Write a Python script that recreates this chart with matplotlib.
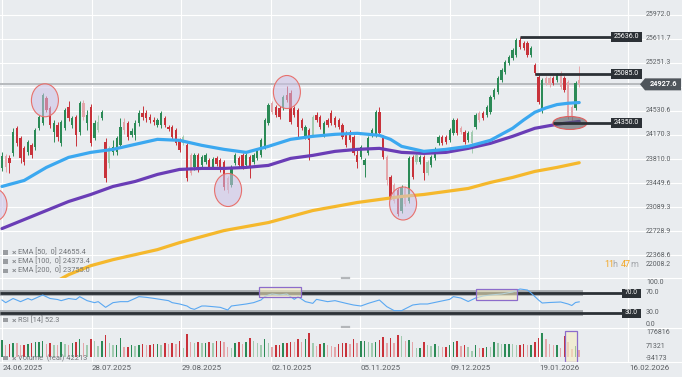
import numpy as np
import matplotlib
matplotlib.use("Agg")
import matplotlib.pyplot as plt
from matplotlib.patches import Ellipse, Rectangle, Polygon

plt.rcParams['font.family'] = ['Roboto', 'DejaVu Sans']

# ---------------- data ----------------
dates = ["24.06.2025", "28.07.2025", "29.08.2025", "02.10.2025",
         "05.11.2025", "09.12.2025", "19.01.2026", "16.02.2026"]
date_pos = [0, 24.2, 48.4, 72.6, 96.8, 121.0, 145.1, 169.3]

opens = [23670, 23850, 23820, 23895, 24270, 24120, 23970, 23910, 24015, 23985,
         24270, 24345, 24720, 24570, 24210, 24315, 24045, 24270, 24585, 24315,
         24435, 24210, 24645, 24345, 24585, 24120, 24240, 24420, 24060, 23745,
         23910, 23910, 24015, 24360, 24345, 24165, 24165, 24345, 24495, 24495,
         24435, 24390, 24315, 24315, 24420, 24285, 24285, 24240, 24090, 24045,
         24015, 23865, 23685, 23865, 23715, 23760, 23790, 23685, 23820, 23790,
         23760, 23520, 23415, 23745, 23820, 23865, 23715, 23835, 23760, 23820,
         23865, 23985, 24345, 24645, 24585, 24570, 24570, 24765, 24795, 24570,
         24540, 24390, 24135, 24240, 24165, 24465, 24435, 24165, 24390, 24495,
         24420, 24390, 24315, 24195, 24210, 24135, 23865, 23835, 23715, 23895,
         24165, 24165, 24510, 24135, 23835, 23535, 23415, 23340, 23040, 23370,
         23190, 23835, 23760, 23760, 23835, 23595, 23715, 23820, 24045, 24135,
         24135, 24090, 24195, 24390, 24270, 24210, 24090, 24045, 24285, 24495,
         24495, 24465, 24510, 24735, 24810, 24990, 25110, 25245, 25320, 25365,
         25590, 25545, 25545, 25365, 25215, 25035, 24540, 25020, 25020, 25020,
         24990, 25095, 25020, 24960, 24585, 24570, 24990]
closes = [23850, 23685, 23745, 24210, 24045, 23820, 23760, 24060, 23865, 24240,
          24435, 24765, 24540, 24315, 24345, 24135, 24360, 24540, 24420, 24420,
          24165, 24645, 24435, 24465, 24045, 24345, 24360, 24510, 23520, 23970,
          23985, 24120, 24285, 24240, 24135, 24225, 24345, 24495, 24435, 24420,
          24390, 24360, 24390, 24495, 24315, 24255, 24135, 24045, 23940, 24135,
          23520, 23595, 23865, 23640, 23835, 23865, 23685, 23805, 23730, 23640,
          23385, 23340, 23685, 23865, 23715, 23685, 23865, 23685, 23865, 23940,
          24090, 24390, 24615, 24510, 24465, 24435, 24735, 24690, 24360, 24465,
          24285, 24270, 24285, 24090, 24435, 24390, 24285, 24345, 24315, 24345,
          24315, 24285, 24135, 24015, 24090, 23895, 23760, 23985, 23790, 24120,
          24240, 24510, 24195, 23835, 23490, 23235, 23190, 22995, 23385, 23145,
          23820, 23535, 23865, 23835, 23595, 23760, 23835, 23940, 24135, 24045,
          24060, 24240, 24390, 24195, 24210, 24060, 24195, 24210, 24465, 24390,
          24420, 24585, 24735, 24840, 25020, 25140, 25260, 25335, 25440, 25590,
          25485, 25470, 25365, 25470, 25095, 24660, 24990, 24945, 24915, 24945,
          25065, 24885, 24840, 24435, 24435, 24945, 24927.6]
highs = [23910, 23880, 23865, 24270, 24300, 24150, 24000, 24090, 24045, 24270,
         24465, 24795, 24750, 24600, 24390, 24360, 24390, 24570, 24675, 24450,
         24465, 24675, 24690, 24540, 24630, 24390, 24465, 24540, 24120, 24000,
         24090, 24150, 24420, 24420, 24375, 24270, 24390, 24540, 24600, 24540,
         24480, 24435, 24420, 24525, 24450, 24315, 24315, 24270, 24120, 24165,
         24045, 23895, 23895, 23895, 23865, 23895, 23820, 23835, 23850, 23820,
         23790, 23550, 23715, 23895, 23850, 23895, 23895, 23865, 23895, 23970,
         24120, 24420, 24645, 24675, 24615, 24600, 24765, 24900, 24840, 24600,
         24570, 24420, 24315, 24270, 24465, 24510, 24465, 24375, 24420, 24540,
         24450, 24420, 24345, 24225, 24240, 24165, 23940, 24015, 23820, 24150,
         24270, 24540, 24585, 24165, 23865, 23565, 23445, 23370, 23415, 23400,
         23850, 23865, 23895, 23865, 23865, 23790, 23865, 23985, 24165, 24165,
         24165, 24270, 24420, 24420, 24300, 24240, 24225, 24240, 24495, 24525,
         24525, 24615, 24765, 24870, 25050, 25170, 25290, 25365, 25470, 25620,
         25636, 25575, 25575, 25500, 25245, 25065, 25020, 25050, 25050, 25050,
         25095, 25125, 25050, 24990, 24615, 24975, 25200]
lows = [23625, 23610, 23595, 23850, 24000, 23745, 23715, 23865, 23820, 23940,
        24240, 24315, 24510, 24270, 24060, 24075, 24000, 24240, 24375, 24270,
        24000, 24165, 24390, 24240, 24000, 24090, 24210, 24390, 23460, 23670,
        23865, 23865, 23970, 24180, 24090, 24135, 24090, 24300, 24390, 24360,
        24345, 24315, 24285, 24270, 24285, 24225, 24105, 24015, 23910, 24015,
        23475, 23565, 23640, 23610, 23685, 23730, 23655, 23655, 23700, 23610,
        23340, 23295, 23385, 23715, 23685, 23655, 23685, 23520, 23730, 23790,
        23835, 23955, 24315, 24480, 24435, 24405, 24540, 24660, 24330, 24435,
        24135, 24240, 24105, 23790, 24135, 24360, 24255, 24135, 24285, 24315,
        24285, 24255, 24105, 23985, 24060, 23865, 23670, 23805, 23535, 23865,
        24135, 24135, 24165, 23805, 23415, 23205, 23160, 22965, 23010, 23115,
        23160, 23505, 23730, 23730, 23490, 23565, 23685, 23790, 24015, 24015,
        24030, 24060, 24165, 24165, 24180, 24030, 24060, 23895, 24255, 24360,
        24390, 24435, 24480, 24705, 24780, 24960, 25080, 25215, 25290, 25335,
        25455, 25440, 25335, 25335, 25065, 24630, 24495, 24915, 24885, 24915,
        24960, 24855, 24810, 24405, 24350, 24540, 24885]
volumes_k = [114, 80, 87, 96, 91, 80, 80, 84, 96, 98,
             100, 107, 87, 96, 80, 77, 103, 87, 80, 91,
             98, 119, 91, 80, 119, 110, 75, 107, 149, 91,
             80, 80, 126, 68, 68, 80, 73, 80, 84, 80,
             80, 84, 87, 80, 91, 87, 96, 84, 107, 57,
             156, 103, 96, 103, 91, 96, 103, 96, 107, 107,
             98, 68, 57, 91, 100, 84, 103, 126, 107, 91,
             80, 119, 96, 68, 80, 80, 91, 91, 103, 98,
             119, 103, 119, 165, 91, 73, 87, 91, 80, 73,
             68, 87, 96, 96, 87, 119, 96, 105, 110, 103,
             96, 103, 114, 133, 96, 126, 91, 149, 142, 110,
             114, 100, 57, 57, 103, 80, 73, 87, 73, 68,
             68, 80, 103, 107, 73, 80, 68, 40, 80, 57,
             57, 68, 64, 98, 96, 84, 87, 87, 84, 80,
             80, 87, 80, 80, 103, 130, 165, 119, 87, 80,
             80, 60, 142, 103, 55, 70, 42.213]

ema50_idx = [0, 6, 12, 18, 24, 30, 36, 42, 48, 54, 60, 66, 72, 78, 84, 90, 96,
             102, 105, 108, 114, 120, 126, 132, 138, 141, 144, 147, 150, 153, 156]
ema50 = [23400, 23490, 23685, 23835, 23910, 23955, 24030, 24105, 24090, 24015,
         23955, 23910, 24000, 24105, 24150, 24180, 24195, 24165, 24105, 24000,
         23925, 23955, 24000, 24090, 24270, 24395, 24510, 24575, 24625, 24645, 24655.4]
ema100_idx = [0, 6, 12, 18, 24, 30, 36, 42, 48, 54, 60, 66, 72, 78, 84, 90, 96,
              102, 108, 114, 120, 126, 132, 138, 144, 150, 156]
ema100 = [22770, 22905, 23040, 23175, 23280, 23400, 23475, 23580, 23655, 23670,
          23670, 23685, 23715, 23820, 23865, 23925, 23955, 23970, 23910, 23895,
          23910, 23970, 24045, 24150, 24270, 24330, 24373.4]
ema200_idx = [12, 18, 24, 30, 36, 42, 48, 54, 60, 66, 72, 78, 84, 90, 96, 102,
              108, 114, 120, 126, 132, 138, 144, 150, 156]
ema200 = [21900, 22080, 22215, 22305, 22380, 22455, 22560, 22650, 22740, 22800,
          22860, 22950, 23040, 23100, 23160, 23205, 23250, 23280, 23325, 23370,
          23460, 23535, 23625, 23685, 23755.0]

rsi_idx = [0, 1, 3, 5, 7, 8, 11, 13, 15, 16, 18, 20, 21, 23, 25, 26, 28, 30, 32, 34,
           35, 37, 39, 41, 45, 46, 48, 50, 51, 52, 54, 55, 57, 59, 61, 62, 64, 66, 68, 70,
           71, 72, 73, 75, 77, 78, 79, 80, 82, 84, 85, 88, 90, 93, 95, 97, 99, 102, 104, 106,
           108, 111, 113, 115, 118, 121, 122, 124, 126, 128, 130, 132, 135, 138, 140, 142,
           143, 145, 146, 148, 151, 153, 154, 155, 156]
rsi_vals = [56, 50.7, 59, 52.7, 59, 56, 66, 59, 57, 54.7, 59, 57, 62.7, 54.7, 50.7, 52.7,
            41.3, 50.7, 52.7, 52.7, 56, 62.7, 61.3, 59.3, 54.7, 50.7, 48, 44, 39.3, 37.3,
            44, 44, 42.7, 41.3, 36, 44, 46, 48, 50.7, 56, 62.7, 66, 68, 66, 68, 62.7, 57.3,
            62.7, 52.7, 49.3, 57.3, 52.7, 54.7, 49.3, 46, 44, 49.3, 56, 42.7, 34.7, 34.7, 46,
            48, 48, 52.7, 57.3, 62.7, 60, 53, 60, 64, 66, 68, 72, 78, 76, 70, 56, 50, 51,
            52, 48, 45, 51, 52.3]

price_ticks = [22008.2, 22368.6, 22728.9, 23089.3, 23449.6, 23810.0, 24170.3,
               24530.6, 24890.9, 25251.3, 25611.7, 25972.0]
rsi_ticks = [100.0, 70.0, 30.0, 0.0]
vol_ticks = [176816, 71321, -34173]
levels = [25636.0, 25085.0, 24350.0]
level_start = [140, 144, 149]
last_price = 24927.6
ema_legend = [("EMA [50,  0]", 24655.4), ("EMA [100,  0]", 24373.4), ("EMA [200,  0]", 23755.0)]
rsi_legend = ("RSI [14]", 52.3)
vol_legend = ("Volume  (real)", 42213)

# ---------------- layout ----------------
W, H = 682, 377
BG = '#e9ecef'
GREEN, RED = '#2b8a56', '#c8323a'
LGREEN, LRED = '#a2cbb0', '#e4a6aa'
DARK = '#2c3136'
TXT = '#5a5e62'

fig = plt.figure(figsize=(W / 100, H / 100), dpi=100)
fig.patch.set_facecolor(BG)

X0, DX = 2.0, 3.7
XL = (-X0 / DX, (W - X0) / DX)
P_TOP, P_PX = 26189.5, 14.96
V_PX, V_ZERO = 6934.0, 356.5


def panel(top, bot):
    a = fig.add_axes([0, 1 - bot / H, 1, (bot - top) / H])
    a.set_xlim(*XL)
    a.axis('off')
    return a


ax = panel(0, 278)
ax.set_ylim(P_TOP - 278 * P_PX, P_TOP)
ax_rsi = panel(278, 328)
ax_rsi.set_ylim(0, 100)
ax_vol = panel(328, 362)
ax_vol.set_ylim((V_ZERO - 362) * V_PX, (V_ZERO - 328) * V_PX)

ov = fig.add_axes([0, 0, 1, 1])
ov.set_xlim(0, W)
ov.set_ylim(H, 0)
ov.axis('off')


def py_price(p):
    return (P_TOP - p) / P_PX


def py_rsi(r):
    return 278 + (100 - r) * 0.5


def py_vol(v):
    return V_ZERO - v / V_PX


def ix(px):
    return (px - X0) / DX


# grid
for t in price_ticks:
    ax.axhline(t, color='white', lw=0.8, zorder=0)
for a in (ax, ax_rsi, ax_vol):
    for p in date_pos:
        a.axvline(p, color='white', lw=0.8, zorder=0)
for yy in (278, 327.5, 362):
    ov.plot([0, W], [yy, yy], color='white', lw=0.8, zorder=0)

# candles
o = np.array(opens, float); c = np.array(closes, float)
h = np.array(highs, float); l = np.array(lows, float)
vol = np.array(volumes_k, float) * 1000
idx = np.arange(len(o))
up = c >= o
prev = np.r_[vol[0], vol[:-1]]
fade_v = vol < prev
fade_c = vol < 0.8 * prev


def colours(fade):
    return [(LGREEN if f else GREEN) if u else (LRED if f else RED) for u, f in zip(up, fade)]


ccols = colours(fade_c)
vcols = colours(fade_v)
ax.vlines(idx, l, h, colors=ccols, lw=0.7, zorder=2)
ax.bar(idx, np.maximum(np.abs(c - o), 12), bottom=np.minimum(o, c), width=0.6,
       color=ccols, zorder=2)

# EMAs
ax.plot(ema200_idx, ema200, color='#f5b82c', lw=2.3, solid_capstyle='round', zorder=3)
ax.plot(ema100_idx, ema100, color='#6a3db6', lw=2.3, solid_capstyle='round', zorder=3)
ax.plot(ema50_idx, ema50, color='#3ba8f0', lw=2.3, solid_capstyle='round', zorder=3)

# current price line
ax.plot([XL[0], ix(640)], [last_price, last_price], color='#b7babd', lw=1.4, zorder=1)

# circles
circ_w, circ_h = 27 / DX, 33 * P_PX
for (ci, cp) in [(11.6, 24689), (77.0, 24813), (61.1, 23347), (108.4, 23145), (-2.3, 23123)]:
    ax.add_patch(Ellipse((ci, cp), circ_w, circ_h, facecolor=(0.80, 0.76, 0.90, 0.55),
                         edgecolor='#e8706c', lw=0.8, zorder=4))
ax.add_patch(Ellipse((153.5, 24350), 34 / DX, 13 * P_PX, facecolor=(0.33, 0.35, 0.38, 0.6),
                     edgecolor='#e0605e', lw=0.8, zorder=4))

# horizontal levels
for lv, st in zip(levels, level_start):
    ax.plot([st, ix(611)], [lv, lv], color=DARK, lw=2.0, zorder=5, solid_capstyle='butt')
    y = py_price(lv)
    ov.add_patch(Rectangle((611, y - 5), 31, 10, facecolor=DARK, edgecolor='none'))
    ov.text(626.5, y, f"{lv:.1f}", color='white', fontsize=5, ha='center', va='center')

# RSI panel
for lv in (70, 30):
    ax_rsi.plot([XL[0], ix(583)], [lv, lv], color='#a6aaae', lw=4.2, zorder=1, solid_capstyle='butt')
    ax_rsi.plot([XL[0], ix(622)], [lv, lv], color=DARK, lw=2.0, zorder=2, solid_capstyle='butt')
    y = py_rsi(lv)
    ov.add_patch(Rectangle((622, y - 4.5), 18.5, 9, facecolor=DARK, edgecolor='none'))
    ov.text(631.2, y, f"{lv:.1f}", color='white', fontsize=4.8, ha='center', va='center')
ax_rsi.plot(rsi_idx, rsi_vals, color='#5aa8f2', lw=0.8, zorder=3)
for (x0, x1, r0, r1) in [(ix(259), ix(301), 62, 82), (ix(476), ix(517), 56, 78)]:
    ax_rsi.add_patch(Rectangle((x0, r0), x1 - x0, r1 - r0, facecolor=(0.96, 0.93, 0.76, 0.6),
                               edgecolor='#8c6ccb', lw=0.9, zorder=4))

# volume
ax_vol.bar(idx, vol, width=0.38, color=vcols, zorder=2)
vx0, vx1 = ix(565), ix(577)
ax_vol.add_patch(Rectangle((vx0, (V_ZERO - 361.5) * V_PX), vx1 - vx0, 31 * V_PX,
                           facecolor=(0.96, 0.93, 0.76, 0.6), edgecolor='#8c6ccb', lw=0.9, zorder=4))

# separator handles
for yy in (278, 327):
    ov.plot([342, 349], [yy, yy], color='#b3b6b9', lw=1.6)

# right axis labels
for t in price_ticks:
    if abs(t - 24890.9) < 1:
        continue
    y = py_price(t)
    if t < 22100:
        y = 265
    ov.text(646, y, f"{t:.1f}", color=TXT, fontsize=5, ha='left', va='center')
for t, y in zip(rsi_ticks, [282, py_rsi(70), py_rsi(30), 324]):
    ov.text(646, y, f"{t:.1f}", color=TXT, fontsize=5, ha='left', va='center')
for t, y in zip(vol_ticks, [332, py_vol(71321), 359]):
    ov.text(646, y, f"{t}", color=TXT, fontsize=5, ha='left', va='center')

# current price tag
yp = py_price(last_price)
ov.add_patch(Polygon([(640, yp), (645, yp - 6), (681, yp - 6), (681, yp + 6), (645, yp + 6)],
                     closed=True, facecolor='#4f555b', edgecolor='none'))
ov.text(663, yp, f"{last_price:.1f}", color='white', fontsize=5.3, ha='center', va='center',
        fontweight='bold')

# countdown
ov.text(604, 264.5, "11", color='#f4a622', fontsize=6.5, ha='left', va='center')
ov.text(612.5, 264.5, "h", color='#a3a6aa', fontsize=6.5, ha='left', va='center')
ov.text(621, 264.5, "47", color='#f4a622', fontsize=6.5, ha='left', va='center')
ov.text(630.5, 264.5, "m", color='#a3a6aa', fontsize=6.5, ha='left', va='center')

# legends
def legend_row(y, label):
    ov.add_patch(Rectangle((3, y - 2.2), 4.6, 4.4, facecolor='#9a9da1', edgecolor='none'))
    ov.text(13.8, y, "×", color='#8a8d91', fontsize=6, ha='center', va='center', fontweight='bold')
    ov.text(18.3, y, label, color='#74777b', fontsize=5.3, ha='left', va='center')


for (name, val), y in zip(ema_legend, [252.3, 261.5, 270.7]):
    legend_row(y, f"{name} {val:.1f}")
legend_row(320, f"{rsi_legend[0]} {rsi_legend[1]:.1f}")
legend_row(358, f"{vol_legend[0]} {vol_legend[1]}")

# date labels
for p, d in zip(date_pos, dates):
    ov.text(X0 + DX * p + 0.5, 368.5, d, color=TXT, fontsize=5.7, ha='left', va='center')

fig.savefig("out.png", dpi=100, facecolor=BG)
